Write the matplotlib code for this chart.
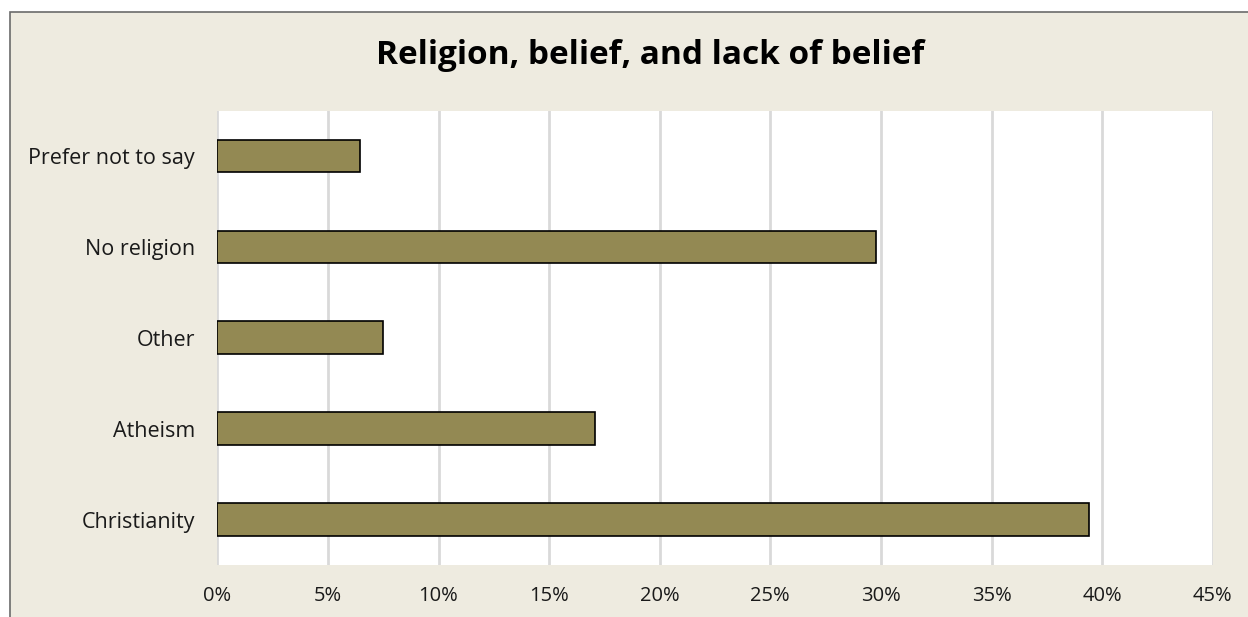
"""Religion, belief, and lack of belief - horizontal bar chart."""

import matplotlib.pyplot as plt
from matplotlib.patches import Rectangle
from matplotlib.ticker import PercentFormatter

# survey shares (fraction of respondents), bottom to top
categories = ["Christianity", "Atheism", "Other", "No religion", "Prefer not to say"]
shares = [0.394, 0.1706, 0.075, 0.298, 0.0644]
x_ticks = [0, 0.05, 0.10, 0.15, 0.20, 0.25, 0.30, 0.35, 0.40, 0.45]

BG = "#EEEBE0"
BAR = "#938953"

plt.rcParams["font.family"] = ["Open Sans", "DejaVu Sans"]

W, H = 1248, 617
fig = plt.figure(figsize=(W / 100, H / 100), dpi=100)
fig.patch.set_facecolor("white")

# chart frame (cropped on right and bottom)
fig.patches.append(Rectangle((10 / W, -0.1), 1.1, 1.1 - 12 / H, transform=fig.transFigure,
                             facecolor=BG, edgecolor="#6b6b6b", lw=1.2, zorder=-5))

ax = fig.add_axes([217.3 / W, 1 - 565 / H, (1212.7 - 217.3) / W, (565 - 110.7) / H])
ax.set_facecolor("white")

ax.barh(range(len(categories)), shares, height=0.36, color=BAR,
        edgecolor="black", lw=1.2, zorder=3)

ax.set_xlim(0, 0.45)
ax.set_ylim(-0.5, len(categories) - 0.5)
ax.set_xticks(x_ticks)
ax.xaxis.set_major_formatter(PercentFormatter(1.0, decimals=0))
ax.set_yticks(range(len(categories)))
ax.set_yticklabels(categories)
ax.grid(axis="x", color="#D9D9D9", lw=2, zorder=0)
ax.tick_params(length=0, labelsize=15.5, colors="#1a1a1a")
ax.tick_params(axis="x", labelsize=14.5, pad=15)
ax.tick_params(axis="y", pad=16)
for s in ax.spines.values():
    s.set_visible(False)

fig.text(0.521, 1 - 56 / H, "Religion, belief, and lack of belief",
         ha="center", va="center", fontsize=24, fontweight="bold", color="black")

fig.savefig("out.png", dpi=100, facecolor=fig.get_facecolor())
